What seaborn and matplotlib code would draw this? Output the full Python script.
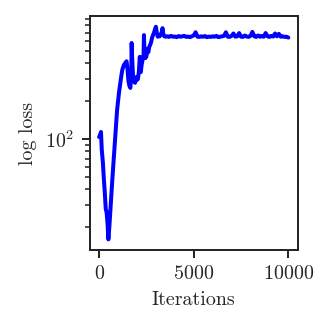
import matplotlib
matplotlib.use("Agg")
import matplotlib.pyplot as plt
import seaborn as sns
import pandas as pd

# loss curve (log y axis)
iterations = [
    0, 50, 100, 140, 200, 260, 300, 350, 400, 450, 490, 540, 580, 630,
    700, 750, 805, 840, 950, 1050, 1150, 1225, 1300, 1370, 1450, 1500,
    1550, 1600, 1650, 1700, 1720, 1750, 1800, 1850, 1900, 1950, 2000, 2050,
    2100, 2150, 2200, 2250, 2300, 2350, 2370, 2400, 2450, 2500, 2550, 2600,
    2650, 2700, 2750, 2800, 2850, 2900, 2950, 3000, 3050, 3100, 3150, 3200,
    3250, 3300, 3350, 3400, 3450, 3500,
    3600, 3700, 3800, 3900, 4000, 4100, 4200, 4300, 4400, 4500, 4600, 4700,
    4800, 4900, 5000, 5100, 5200, 5300, 5400, 5500, 5600, 5700, 5800, 5900,
    6000, 6100, 6200, 6300, 6400, 6500, 6600, 6700, 6800, 6900, 7000, 7100,
    7200, 7300, 7400, 7500, 7600, 7700, 7800, 7900, 8000, 8100, 8200, 8300,
    8400, 8500, 8600, 8700, 8800, 8900, 9000, 9100, 9200, 9300, 9400, 9500,
    9600, 9700, 9800, 9900, 10000,
]
loss = [
    104, 108, 114, 83, 65, 46, 38, 28, 26, 21, 16, 20, 25, 34,
    48, 62, 83, 100, 170, 233, 300, 355, 385, 400, 415, 360,
    290, 265, 255, 320, 580, 430, 300, 285, 280, 310, 295, 300,
    340, 450, 340, 390, 430, 470, 670, 480, 440, 455, 520, 490,
    540, 560, 590, 640, 670, 700, 740, 780, 700, 650, 660, 655,
    680, 690, 760, 670, 655, 650,
    655, 648, 660, 650, 652, 645, 658, 650, 655, 660, 648, 652,
    645, 655, 665, 705, 650, 648, 655, 650, 658, 645, 652, 648,
    655, 650, 660, 645, 650, 655, 660, 705, 650, 648, 660, 690,
    650, 655, 695, 650, 648, 665, 652, 648, 660, 710, 655, 648,
    665, 650, 658, 650, 695, 655, 648, 660, 652, 690, 655, 685,
    650, 655, 648, 650, 640,
]

df = pd.DataFrame({"Iterations": iterations, "loss": loss})

sns.set_style("ticks")
plt.rcParams["font.family"] = ["cmr10"]
plt.rcParams["mathtext.fontset"] = "cm"
plt.rcParams["axes.formatter.use_mathtext"] = True
plt.rcParams["font.size"] = 10
plt.rcParams["axes.linewidth"] = 1.0

fig = plt.figure(figsize=(332 / 144, 329 / 144), dpi=144)
ax = fig.add_axes([0.27, 0.24, 0.627, 0.711])
sns.lineplot(data=df, x="Iterations", y="loss", color="blue", linewidth=2, ax=ax)
ax.set_yscale("log")
ax.set_xticks([0, 5000, 10000])
ax.set_xlabel("Iterations", fontsize=10)
ax.set_ylabel("log loss", fontsize=10)
ax.tick_params(which="major", labelsize=10, length=4, width=1.0)
ax.tick_params(which="minor", length=2.5, width=0.8)
for s in ax.spines.values():
    s.set_visible(True)

fig.savefig("out.png", dpi=144)
